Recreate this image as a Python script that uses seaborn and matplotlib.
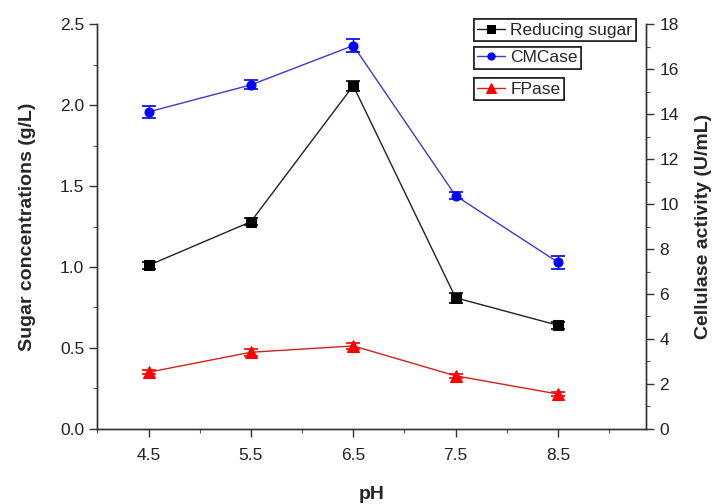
import matplotlib
matplotlib.use("Agg")
import matplotlib.pyplot as plt
from matplotlib.ticker import FixedLocator, MultipleLocator
import seaborn as sns
import numpy as np

ph = [4.5, 5.5, 6.5, 7.5, 8.5]
ph_labels = ["4.5", "5.5", "6.5", "7.5", "8.5"]
reducing_sugar = [1.01, 1.28, 2.12, 0.81, 0.64]
reducing_err = [0.02, 0.02, 0.03, 0.03, 0.02]
cmcase = [14.1, 15.3, 17.05, 10.37, 7.41]
cmcase_err = [0.25, 0.2, 0.28, 0.15, 0.3]
fpase = [2.52, 3.41, 3.69, 2.36, 1.55]
fpase_err = [0.1, 0.15, 0.12, 0.1, 0.1]

sns.set_style("ticks")
plt.rcParams['font.family'] = ['Liberation Sans', 'DejaVu Sans']

fig = plt.figure(figsize=(7.21, 5.04), dpi=100)
ax = fig.add_axes([0.135, 0.149, 0.761, 0.803])
ax2 = ax.twinx()

tick_color = '#222222'

# Reducing sugar (left axis)
sns.lineplot(x=ph, y=reducing_sugar, ax=ax, color='#222222', linewidth=1.0,
             marker='s', markersize=6.5, markeredgecolor='black',
             markerfacecolor='black', legend=False)
h1 = ax.get_lines()[-1]
ax.errorbar(ph, reducing_sugar, yerr=reducing_err, fmt='none', ecolor='black',
            elinewidth=1, capsize=5, capthick=1.2)

# CMCase (right axis)
sns.lineplot(x=ph, y=cmcase, ax=ax2, color='#3a3ad0', linewidth=1.0,
             marker='o', markersize=6.5, markeredgecolor='blue',
             markerfacecolor='blue', legend=False)
h2 = ax2.get_lines()[-1]
ax2.errorbar(ph, cmcase, yerr=cmcase_err, fmt='none', ecolor='blue',
             elinewidth=1, capsize=5, capthick=1.2)

# FPase (right axis)
sns.lineplot(x=ph, y=fpase, ax=ax2, color='#d42020', linewidth=1.0,
             marker='^', markersize=8.5, markeredgecolor='red',
             markerfacecolor='red', legend=False)
h3 = ax2.get_lines()[-1]
ax2.errorbar(ph, fpase, yerr=fpase_err, fmt='none', ecolor='red',
             elinewidth=1, capsize=5, capthick=1.2)

ax.set_xlim(4.0, 9.36)
ax.set_ylim(0, 2.5)
ax2.set_ylim(0, 18)

ax.xaxis.set_major_locator(FixedLocator(ph))
ax.set_xticklabels(ph_labels)
ax.xaxis.set_minor_locator(FixedLocator([4.0, 5.0, 6.0, 7.0, 8.0, 9.0]))
ax.yaxis.set_major_locator(MultipleLocator(0.5))
ax.yaxis.set_minor_locator(MultipleLocator(0.25))
ax.set_yticks([0.0, 0.5, 1.0, 1.5, 2.0, 2.5])
ax.set_yticklabels(["0.0", "0.5", "1.0", "1.5", "2.0", "2.5"])
ax2.yaxis.set_major_locator(MultipleLocator(2))
ax2.yaxis.set_minor_locator(MultipleLocator(1))

for a in (ax, ax2):
    a.spines['top'].set_visible(False)
    for s in a.spines.values():
        s.set_color('#333333')
        s.set_linewidth(1.0)
    a.tick_params(which='major', length=6, width=1, color='#333333',
                  labelsize=12.5, labelcolor=tick_color, direction='out')
    a.tick_params(which='minor', length=3, width=0.8, color='#555555',
                  direction='out')

ax.set_xlabel("pH", fontsize=14, fontweight='bold', labelpad=16)
ax.set_ylabel("Sugar concentrations (g/L)", fontsize=14, fontweight='bold', labelpad=17)
ax2.set_ylabel("Cellulase activity (U/mL)", fontsize=14, fontweight='bold', labelpad=12)
ax.tick_params(axis='x', pad=8)

# Three stacked legend boxes
tops = [0.962, 0.907, 0.845]
labels = ["Reducing sugar", "CMCase", "FPase"]
handles = [h1, h2, h3]
for h, lab, t in zip(handles, labels, tops):
    leg = fig.legend([h], [lab], loc='upper left',
                     bbox_to_anchor=(0.657, t), bbox_transform=fig.transFigure,
                     borderaxespad=0, fancybox=False, edgecolor='#222222',
                     framealpha=1, handlelength=1.6, borderpad=0.2,
                     handletextpad=0.3, fontsize=12.5, markerscale=0.8)
    leg.get_frame().set_linewidth(1.2)
    fig.add_artist(leg)

fig.savefig("out.png", dpi=100)
